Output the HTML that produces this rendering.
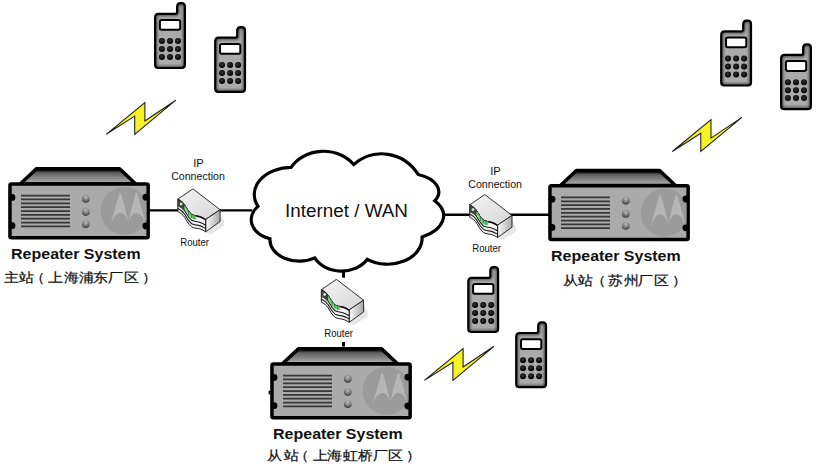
<!DOCTYPE html>
<html><head><meta charset="utf-8">
<style>
html,body{margin:0;padding:0;background:#fff;}
body{width:816px;height:468px;overflow:hidden;position:relative;}
svg{position:absolute;left:0;top:0;}
text{font-family:"Liberation Sans",sans-serif;fill:#111;}
</style></head><body>
<svg width="816" height="468" viewBox="0 0 816 468">
<defs>
  <linearGradient id="trap" x1="0" y1="0" x2="0" y2="1">
    <stop offset="0" stop-color="#000"/>
    <stop offset="0.14" stop-color="#222"/>
    <stop offset="0.26" stop-color="#5c5c5c"/>
    <stop offset="1" stop-color="#b4b4b4"/>
  </linearGradient>
  <radialGradient id="knob" cx="0.5" cy="0.3" r="0.75" fx="0.5" fy="0.25">
    <stop offset="0" stop-color="#bdbdbd"/>
    <stop offset="0.55" stop-color="#7a7a7a"/>
    <stop offset="0.9" stop-color="#3a3a3a"/>
    <stop offset="1" stop-color="#2a2a2a"/>
  </radialGradient>
  <radialGradient id="phonefill" cx="0.5" cy="0.5" r="0.7">
    <stop offset="0.6" stop-color="#a8a8a8"/>
    <stop offset="1" stop-color="#707070"/>
  </radialGradient>
  <clipPath id="panelclip"><rect x="11.7" y="185.7" width="134.7" height="50.1"/></clipPath>
  <g id="rep">
    <polygon points="36.4,168.7 119.6,168.7 135.5,183.8 20.5,183.8" fill="url(#trap)" stroke="#000" stroke-width="3.5" stroke-linejoin="round"/>
    <rect x="9.95" y="183.95" width="138.2" height="53.8" rx="1.5" fill="#aaaaaa" stroke="#000" stroke-width="3.5"/>
    <g clip-path="url(#panelclip)">
      <circle cx="124.6" cy="210.8" r="24" fill="#9b9b9b"/>
      <path d="M119.4,193.3 Q120.2,192.6 120.9,193.3 Q125,207 128.3,222 Q124.5,212.5 120,212.8 Q114,213.5 110.2,226.6 Q115,208 119.4,193.3 Z" fill="#b6b6b6"/>
      <path d="M137.2,193.3 Q136.4,192.6 135.7,193.3 Q131.6,207 128.3,222 Q132.1,212.5 136.6,212.8 Q142.6,213.5 146.4,226.6 Q141.6,208 137.2,193.3 Z" fill="#b6b6b6"/>
    </g>
    <g fill="#000">
      <circle cx="12" cy="197.4" r="3.4"/><circle cx="12" cy="225.7" r="3.4"/>
      <circle cx="145.9" cy="197.2" r="3.4"/><circle cx="145.9" cy="226" r="3.4"/>
    </g>
    <g stroke="#363636" stroke-width="1.75">
      <line x1="21" x2="70" y1="195.6" y2="195.6"/>
      <line x1="21" x2="70" y1="199.45" y2="199.45"/>
      <line x1="21" x2="70" y1="203.3" y2="203.3"/>
      <line x1="21" x2="70" y1="207.15" y2="207.15"/>
      <line x1="21" x2="70" y1="211" y2="211"/>
      <line x1="21" x2="70" y1="214.85" y2="214.85"/>
      <line x1="21" x2="70" y1="218.7" y2="218.7"/>
      <line x1="21" x2="70" y1="222.55" y2="222.55"/>
      <line x1="21" x2="70" y1="226.4" y2="226.4"/>
    </g>
    <circle cx="85.8" cy="198.9" r="3.8" fill="url(#knob)"/>
    <circle cx="85.8" cy="212.1" r="3.8" fill="url(#knob)"/>
    <circle cx="85.8" cy="224.2" r="3.8" fill="url(#knob)"/>
  </g>
  <clipPath id="phclip"><path d="M1,4.6 Q1,1 4.6,1 L21.3,1 Q23,1 23,-0.7 L23,-6 Q23,-9.6 26.4,-9.6 L27.4,-9.6 Q30.8,-9.6 30.8,-6.2 L30.8,52 Q30.8,55.2 27.6,55.2 L4.2,55.2 Q1,55.2 1,52 Z"/></clipPath>
  <filter id="blur1" x="-20%" y="-20%" width="140%" height="140%"><feGaussianBlur stdDeviation="0.9"/></filter>
  <radialGradient id="btn" cx="0.45" cy="0.4" r="0.6">
    <stop offset="0" stop-color="#3a3a3a"/><stop offset="0.5" stop-color="#151515"/><stop offset="1" stop-color="#000"/>
  </radialGradient>
  <g id="phone">
    <path d="M1,4.6 Q1,1 4.6,1 L21.3,1 Q23,1 23,-0.7 L23,-6 Q23,-9.6 26.4,-9.6 L27.4,-9.6 Q30.8,-9.6 30.8,-6.2 L30.8,52 Q30.8,55.2 27.6,55.2 L4.2,55.2 Q1,55.2 1,52 Z" fill="#ababab"/>
    <g clip-path="url(#phclip)"><path d="M1,4.6 Q1,1 4.6,1 L21.3,1 Q23,1 23,-0.7 L23,-6 Q23,-9.6 26.4,-9.6 L27.4,-9.6 Q30.8,-9.6 30.8,-6.2 L30.8,52 Q30.8,55.2 27.6,55.2 L4.2,55.2 Q1,55.2 1,52 Z" fill="none" stroke="#5e5e5e" stroke-width="5" filter="url(#blur1)"/></g>
    <path d="M1,4.6 Q1,1 4.6,1 L21.3,1 Q23,1 23,-0.7 L23,-6 Q23,-9.6 26.4,-9.6 L27.4,-9.6 Q30.8,-9.6 30.8,-6.2 L30.8,52 Q30.8,55.2 27.6,55.2 L4.2,55.2 Q1,55.2 1,52 Z" fill="none" stroke="#000" stroke-width="2.2"/>
    <rect x="5.8" y="7.2" width="20.3" height="9.8" rx="1.8" fill="#fff" stroke="#000" stroke-width="2"/>
    <g fill="url(#btn)">
      <circle cx="7.8" cy="28.3" r="3"/><circle cx="15.9" cy="28.3" r="3"/><circle cx="23.9" cy="28.3" r="3"/>
      <circle cx="7.8" cy="36.3" r="3"/><circle cx="15.9" cy="36.3" r="3"/><circle cx="23.9" cy="36.3" r="3"/>
      <circle cx="7.8" cy="44.2" r="3"/><circle cx="15.9" cy="44.2" r="3"/><circle cx="23.9" cy="44.2" r="3"/>
    </g>
  </g>
  <g id="bolt">
    <polygon points="0,0 38.7,-31.8 38.7,-13.4 69.6,-34.1 28.5,0 28.5,-18.2" fill="#f6f224" stroke="#1a1a1a" stroke-width="1.05" stroke-linejoin="miter"/>
  </g>
  <linearGradient id="rtop" x1="0" y1="0" x2="1" y2="1">
    <stop offset="0" stop-color="#f4f4f4"/><stop offset="1" stop-color="#d6d6d6"/>
  </linearGradient>
  <linearGradient id="rright" x1="0" y1="0" x2="1" y2="0">
    <stop offset="0" stop-color="#fbfbfb"/><stop offset="1" stop-color="#a8a8a8"/>
  </linearGradient>
  <g id="router">
    <polygon points="42.4,26 46.5,32 46,37 33,45.5 28.5,43.5" fill="#e6e6e6"/>
    <path d="M14.7,0.2 Q15.2,-0.2 15.8,0.3 L42.4,20.7 L28.00,30.40 C26.00,29.20 24.00,27.80 21.00,27.20 C19.00,27.00 16.00,26.60 13.90,25.50 C10.50,22.50 8.50,18.50 7.00,16.00 C5.00,13.00 2.80,11.50 0.10,10.20 Z" fill="url(#rtop)" stroke="#1a1a1a" stroke-width="0.9" stroke-linejoin="round"/>
    <polygon points="42.4,20.7 42.4,32.5 28,42.8 28,30.4" fill="url(#rright)" stroke="#1a1a1a" stroke-width="0.9" stroke-linejoin="round"/>
    <path d="M0.10,10.20 C2.80,11.50 5.00,13.00 7.00,16.00 C8.50,18.50 10.50,22.50 13.90,25.50 C16.00,26.60 19.00,27.00 21.00,27.20 C24.00,27.80 26.00,29.20 28.00,30.40 L28,42.8 L28.00,42.80 C26.00,41.60 24.00,40.20 21.00,39.60 C19.00,39.40 16.00,39.00 13.90,37.90 C10.50,34.90 8.50,30.90 7.00,28.40 C5.00,25.40 2.80,23.90 0.10,22.60 Z" fill="#f3f3f3" stroke="#1a1a1a" stroke-width="1" stroke-linejoin="round"/>
    <path d="M0.10,10.70 C2.80,12.00 5.00,13.50 7.00,16.50 C8.50,19.00 10.50,23.00 13.90,26.00 C16.00,27.10 19.00,27.50 21.00,27.70 C24.00,28.30 26.00,29.70 28.00,30.90" fill="none" stroke="#111" stroke-width="1.3"/>
    <path d="M0.10,16.00 C2.80,17.30 5.00,18.80 7.00,21.80 C8.50,24.30 10.50,28.30 13.90,31.30 C16.00,32.40 19.00,32.80 21.00,33.00 C24.00,33.60 26.00,35.00 28.00,36.20" fill="none" stroke="#1a1a1a" stroke-width="1.1"/>
    <path d="M0.10,19.40 C2.80,20.70 5.00,22.20 7.00,25.20 C8.50,27.70 10.50,31.70 13.90,34.70 C16.00,35.80 19.00,36.20 21.00,36.40 C24.00,37.00 26.00,38.40 28.00,39.60" fill="none" stroke="#1a1a1a" stroke-width="1.1"/>
    <path d="M0.1,10.2 C2.8,11.5 5.0,13.0 7.0,16.0 L7.0,22.5 C5.0,19.5 2.8,18.5 0.1,17.6 Z" fill="#3a463a"/>
    <path d="M7.0,16.0 C8.5,18.5 10.5,22.5 13.9,25.5 C15,26.2 16.5,26.6 18.5,26.9 L18.5,30.6 C16.5,30.3 15,29.9 13.9,29.2 C10.5,26.2 8.5,22.2 7.0,19.7 Z" fill="#66d070"/>
    <g stroke="#2a7a34" stroke-width="0.8"><line x1="10.8" y1="22.2" x2="10.8" y2="26.2"/><line x1="13.6" y1="24.8" x2="13.6" y2="28.8"/><line x1="16.4" y1="26.2" x2="16.4" y2="30.2"/></g>
    <circle cx="3.4" cy="15.0" r="1.4" fill="#d5e8d5"/>
  </g>
</defs>

<!-- connection lines -->
<g stroke="#000" stroke-width="2.4">
  <line x1="148" y1="210.4" x2="252" y2="210.4"/>
  <line x1="440" y1="214.8" x2="550" y2="214.8"/>
  <line x1="343.5" y1="269" x2="343.5" y2="277.7" stroke-width="3"/>
  <line x1="343.5" y1="342" x2="343.5" y2="346.5" stroke-width="3"/>
</g>

<!-- cloud -->
<path d="M258.01,206.40 A36.68,27.01 0 0 1 290.92,167.47 A38.12,34.03 0 0 1 353.65,164.58 A44.01,46.79 0 0 1 418.19,174.44 A32.00,18.58 0 0 1 434.69,200.83 A41.99,24.24 0 0 1 422.09,236.90 A34.57,26.13 0 0 1 367.34,259.30 A30.16,24.49 0 0 1 314.74,257.87 A29.28,21.50 0 0 1 269.95,238.74 A26.93,20.04 0 0 1 258.01,206.40Z" fill="#fff" stroke="#000" stroke-width="3.2" stroke-linejoin="miter" stroke-miterlimit="10"/>

<!-- repeaters -->
<g>
    <polygon points="36.4,168.7 119.6,168.7 135.5,183.8 20.5,183.8" fill="url(#trap)" stroke="#000" stroke-width="3.5" stroke-linejoin="round"/>
    <rect x="9.95" y="183.95" width="138.2" height="53.8" rx="1.5" fill="#aaaaaa" stroke="#000" stroke-width="3.5"/>
    <g clip-path="url(#panelclip)">
      <circle cx="124.6" cy="210.8" r="24" fill="#9b9b9b"/>
      <path d="M119.4,193.3 Q120.2,192.6 120.9,193.3 Q125,207 128.3,222 Q124.5,212.5 120,212.8 Q114,213.5 110.2,226.6 Q115,208 119.4,193.3 Z" fill="#b6b6b6"/>
      <path d="M137.2,193.3 Q136.4,192.6 135.7,193.3 Q131.6,207 128.3,222 Q132.1,212.5 136.6,212.8 Q142.6,213.5 146.4,226.6 Q141.6,208 137.2,193.3 Z" fill="#b6b6b6"/>
    </g>
    <g fill="#000">
      <circle cx="12" cy="197.4" r="3.4"/><circle cx="12" cy="225.7" r="3.4"/>
      <circle cx="145.9" cy="197.2" r="3.4"/><circle cx="145.9" cy="226" r="3.4"/>
    </g>
    <g stroke="#363636" stroke-width="1.75">
      <line x1="21" x2="70" y1="195.6" y2="195.6"/>
      <line x1="21" x2="70" y1="199.45" y2="199.45"/>
      <line x1="21" x2="70" y1="203.3" y2="203.3"/>
      <line x1="21" x2="70" y1="207.15" y2="207.15"/>
      <line x1="21" x2="70" y1="211" y2="211"/>
      <line x1="21" x2="70" y1="214.85" y2="214.85"/>
      <line x1="21" x2="70" y1="218.7" y2="218.7"/>
      <line x1="21" x2="70" y1="222.55" y2="222.55"/>
      <line x1="21" x2="70" y1="226.4" y2="226.4"/>
    </g>
    <circle cx="85.8" cy="198.9" r="3.8" fill="url(#knob)"/>
    <circle cx="85.8" cy="212.1" r="3.8" fill="url(#knob)"/>
    <circle cx="85.8" cy="224.2" r="3.8" fill="url(#knob)"/>
  </g>
<g transform="translate(540,1.8)">
    <polygon points="36.4,168.7 119.6,168.7 135.5,183.8 20.5,183.8" fill="url(#trap)" stroke="#000" stroke-width="3.5" stroke-linejoin="round"/>
    <rect x="9.95" y="183.95" width="138.2" height="53.8" rx="1.5" fill="#aaaaaa" stroke="#000" stroke-width="3.5"/>
    <g clip-path="url(#panelclip)">
      <circle cx="124.6" cy="210.8" r="24" fill="#9b9b9b"/>
      <path d="M119.4,193.3 Q120.2,192.6 120.9,193.3 Q125,207 128.3,222 Q124.5,212.5 120,212.8 Q114,213.5 110.2,226.6 Q115,208 119.4,193.3 Z" fill="#b6b6b6"/>
      <path d="M137.2,193.3 Q136.4,192.6 135.7,193.3 Q131.6,207 128.3,222 Q132.1,212.5 136.6,212.8 Q142.6,213.5 146.4,226.6 Q141.6,208 137.2,193.3 Z" fill="#b6b6b6"/>
    </g>
    <g fill="#000">
      <circle cx="12" cy="197.4" r="3.4"/><circle cx="12" cy="225.7" r="3.4"/>
      <circle cx="145.9" cy="197.2" r="3.4"/><circle cx="145.9" cy="226" r="3.4"/>
    </g>
    <g stroke="#363636" stroke-width="1.75">
      <line x1="21" x2="70" y1="195.6" y2="195.6"/>
      <line x1="21" x2="70" y1="199.45" y2="199.45"/>
      <line x1="21" x2="70" y1="203.3" y2="203.3"/>
      <line x1="21" x2="70" y1="207.15" y2="207.15"/>
      <line x1="21" x2="70" y1="211" y2="211"/>
      <line x1="21" x2="70" y1="214.85" y2="214.85"/>
      <line x1="21" x2="70" y1="218.7" y2="218.7"/>
      <line x1="21" x2="70" y1="222.55" y2="222.55"/>
      <line x1="21" x2="70" y1="226.4" y2="226.4"/>
    </g>
    <circle cx="85.8" cy="198.9" r="3.8" fill="url(#knob)"/>
    <circle cx="85.8" cy="212.1" r="3.8" fill="url(#knob)"/>
    <circle cx="85.8" cy="224.2" r="3.8" fill="url(#knob)"/>
  </g>
<g transform="translate(262,180)">
    <polygon points="36.4,168.7 119.6,168.7 135.5,183.8 20.5,183.8" fill="url(#trap)" stroke="#000" stroke-width="3.5" stroke-linejoin="round"/>
    <rect x="9.95" y="183.95" width="138.2" height="53.8" rx="1.5" fill="#aaaaaa" stroke="#000" stroke-width="3.5"/>
    <g clip-path="url(#panelclip)">
      <circle cx="124.6" cy="210.8" r="24" fill="#9b9b9b"/>
      <path d="M119.4,193.3 Q120.2,192.6 120.9,193.3 Q125,207 128.3,222 Q124.5,212.5 120,212.8 Q114,213.5 110.2,226.6 Q115,208 119.4,193.3 Z" fill="#b6b6b6"/>
      <path d="M137.2,193.3 Q136.4,192.6 135.7,193.3 Q131.6,207 128.3,222 Q132.1,212.5 136.6,212.8 Q142.6,213.5 146.4,226.6 Q141.6,208 137.2,193.3 Z" fill="#b6b6b6"/>
    </g>
    <g fill="#000">
      <circle cx="12" cy="197.4" r="3.4"/><circle cx="12" cy="225.7" r="3.4"/>
      <circle cx="145.9" cy="197.2" r="3.4"/><circle cx="145.9" cy="226" r="3.4"/>
    </g>
    <g stroke="#363636" stroke-width="1.75">
      <line x1="21" x2="70" y1="195.6" y2="195.6"/>
      <line x1="21" x2="70" y1="199.45" y2="199.45"/>
      <line x1="21" x2="70" y1="203.3" y2="203.3"/>
      <line x1="21" x2="70" y1="207.15" y2="207.15"/>
      <line x1="21" x2="70" y1="211" y2="211"/>
      <line x1="21" x2="70" y1="214.85" y2="214.85"/>
      <line x1="21" x2="70" y1="218.7" y2="218.7"/>
      <line x1="21" x2="70" y1="222.55" y2="222.55"/>
      <line x1="21" x2="70" y1="226.4" y2="226.4"/>
    </g>
    <circle cx="85.8" cy="198.9" r="3.8" fill="url(#knob)"/>
    <circle cx="85.8" cy="212.1" r="3.8" fill="url(#knob)"/>
    <circle cx="85.8" cy="224.2" r="3.8" fill="url(#knob)"/>
  </g>
<rect x="268.6" y="390.8" width="2" height="3.6" fill="#000"/>

<!-- routers -->
<g transform="translate(177.7,189)">
    <polygon points="42.4,26 46.5,32 46,37 33,45.5 28.5,43.5" fill="#e6e6e6"/>
    <path d="M14.7,0.2 Q15.2,-0.2 15.8,0.3 L42.4,20.7 L28.00,30.40 C26.00,29.20 24.00,27.80 21.00,27.20 C19.00,27.00 16.00,26.60 13.90,25.50 C10.50,22.50 8.50,18.50 7.00,16.00 C5.00,13.00 2.80,11.50 0.10,10.20 Z" fill="url(#rtop)" stroke="#1a1a1a" stroke-width="0.9" stroke-linejoin="round"/>
    <polygon points="42.4,20.7 42.4,32.5 28,42.8 28,30.4" fill="url(#rright)" stroke="#1a1a1a" stroke-width="0.9" stroke-linejoin="round"/>
    <path d="M0.10,10.20 C2.80,11.50 5.00,13.00 7.00,16.00 C8.50,18.50 10.50,22.50 13.90,25.50 C16.00,26.60 19.00,27.00 21.00,27.20 C24.00,27.80 26.00,29.20 28.00,30.40 L28,42.8 L28.00,42.80 C26.00,41.60 24.00,40.20 21.00,39.60 C19.00,39.40 16.00,39.00 13.90,37.90 C10.50,34.90 8.50,30.90 7.00,28.40 C5.00,25.40 2.80,23.90 0.10,22.60 Z" fill="#f3f3f3" stroke="#1a1a1a" stroke-width="1" stroke-linejoin="round"/>
    <path d="M0.10,10.70 C2.80,12.00 5.00,13.50 7.00,16.50 C8.50,19.00 10.50,23.00 13.90,26.00 C16.00,27.10 19.00,27.50 21.00,27.70 C24.00,28.30 26.00,29.70 28.00,30.90" fill="none" stroke="#111" stroke-width="1.3"/>
    <path d="M0.10,16.00 C2.80,17.30 5.00,18.80 7.00,21.80 C8.50,24.30 10.50,28.30 13.90,31.30 C16.00,32.40 19.00,32.80 21.00,33.00 C24.00,33.60 26.00,35.00 28.00,36.20" fill="none" stroke="#1a1a1a" stroke-width="1.1"/>
    <path d="M0.10,19.40 C2.80,20.70 5.00,22.20 7.00,25.20 C8.50,27.70 10.50,31.70 13.90,34.70 C16.00,35.80 19.00,36.20 21.00,36.40 C24.00,37.00 26.00,38.40 28.00,39.60" fill="none" stroke="#1a1a1a" stroke-width="1.1"/>
    <path d="M0.1,10.2 C2.8,11.5 5.0,13.0 7.0,16.0 L7.0,22.5 C5.0,19.5 2.8,18.5 0.1,17.6 Z" fill="#3a463a"/>
    <path d="M7.0,16.0 C8.5,18.5 10.5,22.5 13.9,25.5 C15,26.2 16.5,26.6 18.5,26.9 L18.5,30.6 C16.5,30.3 15,29.9 13.9,29.2 C10.5,26.2 8.5,22.2 7.0,19.7 Z" fill="#66d070"/>
    <g stroke="#2a7a34" stroke-width="0.8"><line x1="10.8" y1="22.2" x2="10.8" y2="26.2"/><line x1="13.6" y1="24.8" x2="13.6" y2="28.8"/><line x1="16.4" y1="26.2" x2="16.4" y2="30.2"/></g>
    <circle cx="3.4" cy="15.0" r="1.4" fill="#d5e8d5"/>
  </g>
<g transform="translate(469.6,194.7)">
    <polygon points="42.4,26 46.5,32 46,37 33,45.5 28.5,43.5" fill="#e6e6e6"/>
    <path d="M14.7,0.2 Q15.2,-0.2 15.8,0.3 L42.4,20.7 L28.00,30.40 C26.00,29.20 24.00,27.80 21.00,27.20 C19.00,27.00 16.00,26.60 13.90,25.50 C10.50,22.50 8.50,18.50 7.00,16.00 C5.00,13.00 2.80,11.50 0.10,10.20 Z" fill="url(#rtop)" stroke="#1a1a1a" stroke-width="0.9" stroke-linejoin="round"/>
    <polygon points="42.4,20.7 42.4,32.5 28,42.8 28,30.4" fill="url(#rright)" stroke="#1a1a1a" stroke-width="0.9" stroke-linejoin="round"/>
    <path d="M0.10,10.20 C2.80,11.50 5.00,13.00 7.00,16.00 C8.50,18.50 10.50,22.50 13.90,25.50 C16.00,26.60 19.00,27.00 21.00,27.20 C24.00,27.80 26.00,29.20 28.00,30.40 L28,42.8 L28.00,42.80 C26.00,41.60 24.00,40.20 21.00,39.60 C19.00,39.40 16.00,39.00 13.90,37.90 C10.50,34.90 8.50,30.90 7.00,28.40 C5.00,25.40 2.80,23.90 0.10,22.60 Z" fill="#f3f3f3" stroke="#1a1a1a" stroke-width="1" stroke-linejoin="round"/>
    <path d="M0.10,10.70 C2.80,12.00 5.00,13.50 7.00,16.50 C8.50,19.00 10.50,23.00 13.90,26.00 C16.00,27.10 19.00,27.50 21.00,27.70 C24.00,28.30 26.00,29.70 28.00,30.90" fill="none" stroke="#111" stroke-width="1.3"/>
    <path d="M0.10,16.00 C2.80,17.30 5.00,18.80 7.00,21.80 C8.50,24.30 10.50,28.30 13.90,31.30 C16.00,32.40 19.00,32.80 21.00,33.00 C24.00,33.60 26.00,35.00 28.00,36.20" fill="none" stroke="#1a1a1a" stroke-width="1.1"/>
    <path d="M0.10,19.40 C2.80,20.70 5.00,22.20 7.00,25.20 C8.50,27.70 10.50,31.70 13.90,34.70 C16.00,35.80 19.00,36.20 21.00,36.40 C24.00,37.00 26.00,38.40 28.00,39.60" fill="none" stroke="#1a1a1a" stroke-width="1.1"/>
    <path d="M0.1,10.2 C2.8,11.5 5.0,13.0 7.0,16.0 L7.0,22.5 C5.0,19.5 2.8,18.5 0.1,17.6 Z" fill="#3a463a"/>
    <path d="M7.0,16.0 C8.5,18.5 10.5,22.5 13.9,25.5 C15,26.2 16.5,26.6 18.5,26.9 L18.5,30.6 C16.5,30.3 15,29.9 13.9,29.2 C10.5,26.2 8.5,22.2 7.0,19.7 Z" fill="#66d070"/>
    <g stroke="#2a7a34" stroke-width="0.8"><line x1="10.8" y1="22.2" x2="10.8" y2="26.2"/><line x1="13.6" y1="24.8" x2="13.6" y2="28.8"/><line x1="16.4" y1="26.2" x2="16.4" y2="30.2"/></g>
    <circle cx="3.4" cy="15.0" r="1.4" fill="#d5e8d5"/>
  </g>
<g transform="translate(321.2,279.5)">
    <polygon points="42.4,26 46.5,32 46,37 33,45.5 28.5,43.5" fill="#e6e6e6"/>
    <path d="M14.7,0.2 Q15.2,-0.2 15.8,0.3 L42.4,20.7 L28.00,30.40 C26.00,29.20 24.00,27.80 21.00,27.20 C19.00,27.00 16.00,26.60 13.90,25.50 C10.50,22.50 8.50,18.50 7.00,16.00 C5.00,13.00 2.80,11.50 0.10,10.20 Z" fill="url(#rtop)" stroke="#1a1a1a" stroke-width="0.9" stroke-linejoin="round"/>
    <polygon points="42.4,20.7 42.4,32.5 28,42.8 28,30.4" fill="url(#rright)" stroke="#1a1a1a" stroke-width="0.9" stroke-linejoin="round"/>
    <path d="M0.10,10.20 C2.80,11.50 5.00,13.00 7.00,16.00 C8.50,18.50 10.50,22.50 13.90,25.50 C16.00,26.60 19.00,27.00 21.00,27.20 C24.00,27.80 26.00,29.20 28.00,30.40 L28,42.8 L28.00,42.80 C26.00,41.60 24.00,40.20 21.00,39.60 C19.00,39.40 16.00,39.00 13.90,37.90 C10.50,34.90 8.50,30.90 7.00,28.40 C5.00,25.40 2.80,23.90 0.10,22.60 Z" fill="#f3f3f3" stroke="#1a1a1a" stroke-width="1" stroke-linejoin="round"/>
    <path d="M0.10,10.70 C2.80,12.00 5.00,13.50 7.00,16.50 C8.50,19.00 10.50,23.00 13.90,26.00 C16.00,27.10 19.00,27.50 21.00,27.70 C24.00,28.30 26.00,29.70 28.00,30.90" fill="none" stroke="#111" stroke-width="1.3"/>
    <path d="M0.10,16.00 C2.80,17.30 5.00,18.80 7.00,21.80 C8.50,24.30 10.50,28.30 13.90,31.30 C16.00,32.40 19.00,32.80 21.00,33.00 C24.00,33.60 26.00,35.00 28.00,36.20" fill="none" stroke="#1a1a1a" stroke-width="1.1"/>
    <path d="M0.10,19.40 C2.80,20.70 5.00,22.20 7.00,25.20 C8.50,27.70 10.50,31.70 13.90,34.70 C16.00,35.80 19.00,36.20 21.00,36.40 C24.00,37.00 26.00,38.40 28.00,39.60" fill="none" stroke="#1a1a1a" stroke-width="1.1"/>
    <path d="M0.1,10.2 C2.8,11.5 5.0,13.0 7.0,16.0 L7.0,22.5 C5.0,19.5 2.8,18.5 0.1,17.6 Z" fill="#3a463a"/>
    <path d="M7.0,16.0 C8.5,18.5 10.5,22.5 13.9,25.5 C15,26.2 16.5,26.6 18.5,26.9 L18.5,30.6 C16.5,30.3 15,29.9 13.9,29.2 C10.5,26.2 8.5,22.2 7.0,19.7 Z" fill="#66d070"/>
    <g stroke="#2a7a34" stroke-width="0.8"><line x1="10.8" y1="22.2" x2="10.8" y2="26.2"/><line x1="13.6" y1="24.8" x2="13.6" y2="28.8"/><line x1="16.4" y1="26.2" x2="16.4" y2="30.2"/></g>
    <circle cx="3.4" cy="15.0" r="1.4" fill="#d5e8d5"/>
  </g>

<!-- phones -->
<g transform="translate(154.1,12.8)">
    <path d="M1,4.6 Q1,1 4.6,1 L21.3,1 Q23,1 23,-0.7 L23,-6 Q23,-9.6 26.4,-9.6 L27.4,-9.6 Q30.8,-9.6 30.8,-6.2 L30.8,52 Q30.8,55.2 27.6,55.2 L4.2,55.2 Q1,55.2 1,52 Z" fill="#ababab"/>
    <g clip-path="url(#phclip)"><path d="M1,4.6 Q1,1 4.6,1 L21.3,1 Q23,1 23,-0.7 L23,-6 Q23,-9.6 26.4,-9.6 L27.4,-9.6 Q30.8,-9.6 30.8,-6.2 L30.8,52 Q30.8,55.2 27.6,55.2 L4.2,55.2 Q1,55.2 1,52 Z" fill="none" stroke="#5e5e5e" stroke-width="5" filter="url(#blur1)"/></g>
    <path d="M1,4.6 Q1,1 4.6,1 L21.3,1 Q23,1 23,-0.7 L23,-6 Q23,-9.6 26.4,-9.6 L27.4,-9.6 Q30.8,-9.6 30.8,-6.2 L30.8,52 Q30.8,55.2 27.6,55.2 L4.2,55.2 Q1,55.2 1,52 Z" fill="none" stroke="#000" stroke-width="2.2"/>
    <rect x="5.8" y="7.2" width="20.3" height="9.8" rx="1.8" fill="#fff" stroke="#000" stroke-width="2"/>
    <g fill="url(#btn)">
      <circle cx="7.8" cy="28.3" r="3"/><circle cx="15.9" cy="28.3" r="3"/><circle cx="23.9" cy="28.3" r="3"/>
      <circle cx="7.8" cy="36.3" r="3"/><circle cx="15.9" cy="36.3" r="3"/><circle cx="23.9" cy="36.3" r="3"/>
      <circle cx="7.8" cy="44.2" r="3"/><circle cx="15.9" cy="44.2" r="3"/><circle cx="23.9" cy="44.2" r="3"/>
    </g>
  </g>
<g transform="translate(214.2,36.7)">
    <path d="M1,4.6 Q1,1 4.6,1 L21.3,1 Q23,1 23,-0.7 L23,-6 Q23,-9.6 26.4,-9.6 L27.4,-9.6 Q30.8,-9.6 30.8,-6.2 L30.8,52 Q30.8,55.2 27.6,55.2 L4.2,55.2 Q1,55.2 1,52 Z" fill="#ababab"/>
    <g clip-path="url(#phclip)"><path d="M1,4.6 Q1,1 4.6,1 L21.3,1 Q23,1 23,-0.7 L23,-6 Q23,-9.6 26.4,-9.6 L27.4,-9.6 Q30.8,-9.6 30.8,-6.2 L30.8,52 Q30.8,55.2 27.6,55.2 L4.2,55.2 Q1,55.2 1,52 Z" fill="none" stroke="#5e5e5e" stroke-width="5" filter="url(#blur1)"/></g>
    <path d="M1,4.6 Q1,1 4.6,1 L21.3,1 Q23,1 23,-0.7 L23,-6 Q23,-9.6 26.4,-9.6 L27.4,-9.6 Q30.8,-9.6 30.8,-6.2 L30.8,52 Q30.8,55.2 27.6,55.2 L4.2,55.2 Q1,55.2 1,52 Z" fill="none" stroke="#000" stroke-width="2.2"/>
    <rect x="5.8" y="7.2" width="20.3" height="9.8" rx="1.8" fill="#fff" stroke="#000" stroke-width="2"/>
    <g fill="url(#btn)">
      <circle cx="7.8" cy="28.3" r="3"/><circle cx="15.9" cy="28.3" r="3"/><circle cx="23.9" cy="28.3" r="3"/>
      <circle cx="7.8" cy="36.3" r="3"/><circle cx="15.9" cy="36.3" r="3"/><circle cx="23.9" cy="36.3" r="3"/>
      <circle cx="7.8" cy="44.2" r="3"/><circle cx="15.9" cy="44.2" r="3"/><circle cx="23.9" cy="44.2" r="3"/>
    </g>
  </g>
<g transform="translate(720.2,30.3)">
    <path d="M1,4.6 Q1,1 4.6,1 L21.3,1 Q23,1 23,-0.7 L23,-6 Q23,-9.6 26.4,-9.6 L27.4,-9.6 Q30.8,-9.6 30.8,-6.2 L30.8,52 Q30.8,55.2 27.6,55.2 L4.2,55.2 Q1,55.2 1,52 Z" fill="#ababab"/>
    <g clip-path="url(#phclip)"><path d="M1,4.6 Q1,1 4.6,1 L21.3,1 Q23,1 23,-0.7 L23,-6 Q23,-9.6 26.4,-9.6 L27.4,-9.6 Q30.8,-9.6 30.8,-6.2 L30.8,52 Q30.8,55.2 27.6,55.2 L4.2,55.2 Q1,55.2 1,52 Z" fill="none" stroke="#5e5e5e" stroke-width="5" filter="url(#blur1)"/></g>
    <path d="M1,4.6 Q1,1 4.6,1 L21.3,1 Q23,1 23,-0.7 L23,-6 Q23,-9.6 26.4,-9.6 L27.4,-9.6 Q30.8,-9.6 30.8,-6.2 L30.8,52 Q30.8,55.2 27.6,55.2 L4.2,55.2 Q1,55.2 1,52 Z" fill="none" stroke="#000" stroke-width="2.2"/>
    <rect x="5.8" y="7.2" width="20.3" height="9.8" rx="1.8" fill="#fff" stroke="#000" stroke-width="2"/>
    <g fill="url(#btn)">
      <circle cx="7.8" cy="28.3" r="3"/><circle cx="15.9" cy="28.3" r="3"/><circle cx="23.9" cy="28.3" r="3"/>
      <circle cx="7.8" cy="36.3" r="3"/><circle cx="15.9" cy="36.3" r="3"/><circle cx="23.9" cy="36.3" r="3"/>
      <circle cx="7.8" cy="44.2" r="3"/><circle cx="15.9" cy="44.2" r="3"/><circle cx="23.9" cy="44.2" r="3"/>
    </g>
  </g>
<g transform="translate(780.1,53.9)">
    <path d="M1,4.6 Q1,1 4.6,1 L21.3,1 Q23,1 23,-0.7 L23,-6 Q23,-9.6 26.4,-9.6 L27.4,-9.6 Q30.8,-9.6 30.8,-6.2 L30.8,52 Q30.8,55.2 27.6,55.2 L4.2,55.2 Q1,55.2 1,52 Z" fill="#ababab"/>
    <g clip-path="url(#phclip)"><path d="M1,4.6 Q1,1 4.6,1 L21.3,1 Q23,1 23,-0.7 L23,-6 Q23,-9.6 26.4,-9.6 L27.4,-9.6 Q30.8,-9.6 30.8,-6.2 L30.8,52 Q30.8,55.2 27.6,55.2 L4.2,55.2 Q1,55.2 1,52 Z" fill="none" stroke="#5e5e5e" stroke-width="5" filter="url(#blur1)"/></g>
    <path d="M1,4.6 Q1,1 4.6,1 L21.3,1 Q23,1 23,-0.7 L23,-6 Q23,-9.6 26.4,-9.6 L27.4,-9.6 Q30.8,-9.6 30.8,-6.2 L30.8,52 Q30.8,55.2 27.6,55.2 L4.2,55.2 Q1,55.2 1,52 Z" fill="none" stroke="#000" stroke-width="2.2"/>
    <rect x="5.8" y="7.2" width="20.3" height="9.8" rx="1.8" fill="#fff" stroke="#000" stroke-width="2"/>
    <g fill="url(#btn)">
      <circle cx="7.8" cy="28.3" r="3"/><circle cx="15.9" cy="28.3" r="3"/><circle cx="23.9" cy="28.3" r="3"/>
      <circle cx="7.8" cy="36.3" r="3"/><circle cx="15.9" cy="36.3" r="3"/><circle cx="23.9" cy="36.3" r="3"/>
      <circle cx="7.8" cy="44.2" r="3"/><circle cx="15.9" cy="44.2" r="3"/><circle cx="23.9" cy="44.2" r="3"/>
    </g>
  </g>
<g transform="translate(467.3,276.8)">
    <path d="M1,4.6 Q1,1 4.6,1 L21.3,1 Q23,1 23,-0.7 L23,-6 Q23,-9.6 26.4,-9.6 L27.4,-9.6 Q30.8,-9.6 30.8,-6.2 L30.8,52 Q30.8,55.2 27.6,55.2 L4.2,55.2 Q1,55.2 1,52 Z" fill="#ababab"/>
    <g clip-path="url(#phclip)"><path d="M1,4.6 Q1,1 4.6,1 L21.3,1 Q23,1 23,-0.7 L23,-6 Q23,-9.6 26.4,-9.6 L27.4,-9.6 Q30.8,-9.6 30.8,-6.2 L30.8,52 Q30.8,55.2 27.6,55.2 L4.2,55.2 Q1,55.2 1,52 Z" fill="none" stroke="#5e5e5e" stroke-width="5" filter="url(#blur1)"/></g>
    <path d="M1,4.6 Q1,1 4.6,1 L21.3,1 Q23,1 23,-0.7 L23,-6 Q23,-9.6 26.4,-9.6 L27.4,-9.6 Q30.8,-9.6 30.8,-6.2 L30.8,52 Q30.8,55.2 27.6,55.2 L4.2,55.2 Q1,55.2 1,52 Z" fill="none" stroke="#000" stroke-width="2.2"/>
    <rect x="5.8" y="7.2" width="20.3" height="9.8" rx="1.8" fill="#fff" stroke="#000" stroke-width="2"/>
    <g fill="url(#btn)">
      <circle cx="7.8" cy="28.3" r="3"/><circle cx="15.9" cy="28.3" r="3"/><circle cx="23.9" cy="28.3" r="3"/>
      <circle cx="7.8" cy="36.3" r="3"/><circle cx="15.9" cy="36.3" r="3"/><circle cx="23.9" cy="36.3" r="3"/>
      <circle cx="7.8" cy="44.2" r="3"/><circle cx="15.9" cy="44.2" r="3"/><circle cx="23.9" cy="44.2" r="3"/>
    </g>
  </g>
<g transform="translate(515.2,332)">
    <path d="M1,4.6 Q1,1 4.6,1 L21.3,1 Q23,1 23,-0.7 L23,-6 Q23,-9.6 26.4,-9.6 L27.4,-9.6 Q30.8,-9.6 30.8,-6.2 L30.8,52 Q30.8,55.2 27.6,55.2 L4.2,55.2 Q1,55.2 1,52 Z" fill="#ababab"/>
    <g clip-path="url(#phclip)"><path d="M1,4.6 Q1,1 4.6,1 L21.3,1 Q23,1 23,-0.7 L23,-6 Q23,-9.6 26.4,-9.6 L27.4,-9.6 Q30.8,-9.6 30.8,-6.2 L30.8,52 Q30.8,55.2 27.6,55.2 L4.2,55.2 Q1,55.2 1,52 Z" fill="none" stroke="#5e5e5e" stroke-width="5" filter="url(#blur1)"/></g>
    <path d="M1,4.6 Q1,1 4.6,1 L21.3,1 Q23,1 23,-0.7 L23,-6 Q23,-9.6 26.4,-9.6 L27.4,-9.6 Q30.8,-9.6 30.8,-6.2 L30.8,52 Q30.8,55.2 27.6,55.2 L4.2,55.2 Q1,55.2 1,52 Z" fill="none" stroke="#000" stroke-width="2.2"/>
    <rect x="5.8" y="7.2" width="20.3" height="9.8" rx="1.8" fill="#fff" stroke="#000" stroke-width="2"/>
    <g fill="url(#btn)">
      <circle cx="7.8" cy="28.3" r="3"/><circle cx="15.9" cy="28.3" r="3"/><circle cx="23.9" cy="28.3" r="3"/>
      <circle cx="7.8" cy="36.3" r="3"/><circle cx="15.9" cy="36.3" r="3"/><circle cx="23.9" cy="36.3" r="3"/>
      <circle cx="7.8" cy="44.2" r="3"/><circle cx="15.9" cy="44.2" r="3"/><circle cx="23.9" cy="44.2" r="3"/>
    </g>
  </g>

<!-- bolts -->
<g transform="translate(106.2,134.3)">
    <polygon points="0,0 38.7,-31.8 38.7,-13.4 69.6,-34.1 28.5,0 28.5,-18.2" fill="#f6f224" stroke="#1a1a1a" stroke-width="1.05" stroke-linejoin="miter"/>
  </g>
<g transform="translate(672.3,151.5)">
    <polygon points="0,0 38.7,-31.8 38.7,-13.4 69.6,-34.1 28.5,0 28.5,-18.2" fill="#f6f224" stroke="#1a1a1a" stroke-width="1.05" stroke-linejoin="miter"/>
  </g>
<g transform="translate(424.4,380.4)">
    <polygon points="0,0 38.7,-31.8 38.7,-13.4 69.6,-34.1 28.5,0 28.5,-18.2" fill="#f6f224" stroke="#1a1a1a" stroke-width="1.05" stroke-linejoin="miter"/>
  </g>

<!-- labels -->
<text x="285.14" y="216.92" font-size="18.80" textLength="122.86" lengthAdjust="spacingAndGlyphs">Internet / WAN</text>
<text x="193.20" y="167.20" font-size="11.30" textLength="10.60" lengthAdjust="spacingAndGlyphs">IP</text>
<text x="171.20" y="180.00" font-size="10.80" textLength="53.60" lengthAdjust="spacingAndGlyphs">Connection</text>
<text x="180.24" y="245.52" font-size="11.30" textLength="28.80" lengthAdjust="spacingAndGlyphs">Router</text>
<text x="490.20" y="175.34" font-size="11.30" textLength="10.60" lengthAdjust="spacingAndGlyphs">IP</text>
<text x="468.34" y="188.04" font-size="10.80" textLength="53.60" lengthAdjust="spacingAndGlyphs">Connection</text>
<text x="472.24" y="251.76" font-size="11.30" textLength="28.80" lengthAdjust="spacingAndGlyphs">Router</text>
<text x="324.24" y="336.62" font-size="11.30" textLength="28.80" lengthAdjust="spacingAndGlyphs">Router</text>
<text x="11.08" y="259.00" font-size="15.25" textLength="129.60" lengthAdjust="spacingAndGlyphs" font-weight="bold">Repeater System</text>
<text x="551.08" y="261.02" font-size="15.25" textLength="129.60" lengthAdjust="spacingAndGlyphs" font-weight="bold">Repeater System</text>
<text x="273.08" y="439.02" font-size="15.25" textLength="129.60" lengthAdjust="spacingAndGlyphs" font-weight="bold">Repeater System</text>
<g transform="translate(3.60,282.5) scale(1.07,0.93) translate(-3.60,-282.5)"><text x="3.6 18.27 28.36 45.56 60.0 73.79 87.15 101.45 116.12 132.76" y="282.5" font-size="14.5" stroke="#111" stroke-width="0.25">主站（上海浦东厂区）</text></g>
<g transform="translate(562.70,285.3) scale(1.07,0.93) translate(-562.70,-285.3)"><text x="562.7 576.62 588.95 605.41 619.9 633.07 648.03 664.75" y="285.3" font-size="14.5" stroke="#111" stroke-width="0.25">从站（苏州厂区）</text></g>
<g transform="translate(266.80,460.3) scale(1.07,0.93) translate(-266.80,-460.3)"><text x="266.8 282.59 292.68 309.7 323.25 337.73 351.75 366.33 380.16 396.61" y="460.3" font-size="14.5" stroke="#111" stroke-width="0.25">从站（上海虹桥厂区）</text></g>
</svg>
</body></html>
